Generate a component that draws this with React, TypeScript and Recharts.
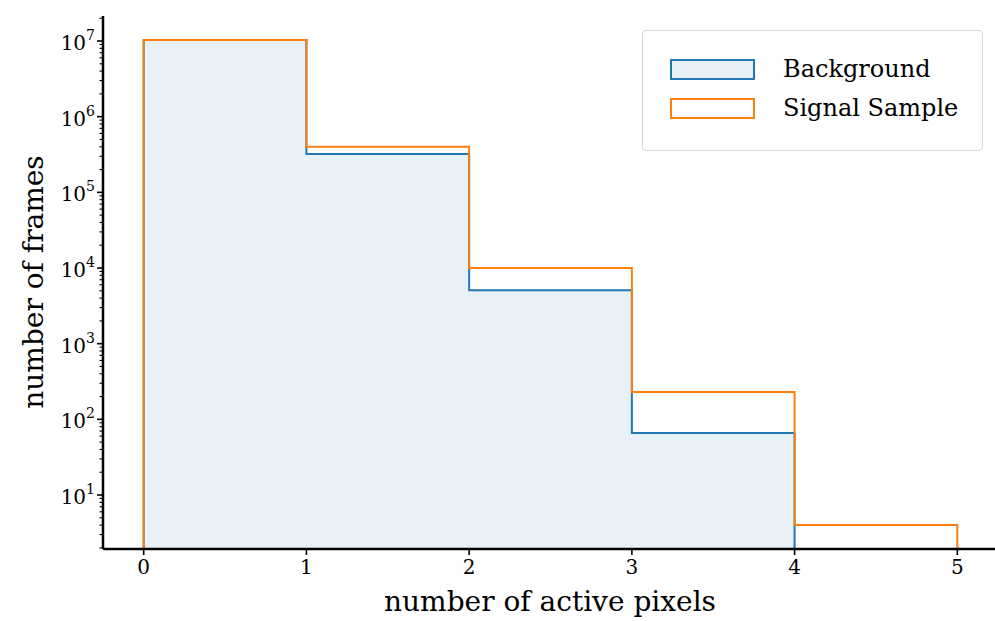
import React from "react";
import { ComposedChart, Area, Line, XAxis, YAxis } from "recharts";

const binEdges = [0, 1, 2, 3, 4, 5];
const backgroundCounts = [1.03e7, 3.2e5, 5.1e3, 66, 0];
const signalCounts = [1.03e7, 4.0e5, 1.0e4, 230, 4];
const xTicks = [0, 1, 2, 3, 4, 5];
const decadeExponents = [1, 2, 3, 4, 5, 6, 7];

const Y_MIN = 1.934;
const Y_MAX = 2.14e7;
const SPINE_X = 103;
const BLUE = "#1f77b4";
const ORANGE = "#ff7f0e";
const FONT = "'DejaVu Serif', serif";

// histogram outline vertices (step) built from bin counts
function stepPoints(counts: number[]) {
  const pts: { x: number; y: number }[] = [{ x: binEdges[0], y: Y_MIN }];
  counts.forEach((c, i) => {
    const v = c > 0 ? c : Y_MIN;
    pts.push({ x: binEdges[i], y: v });
    pts.push({ x: binEdges[i + 1], y: v });
  });
  pts.push({ x: binEdges[binEdges.length - 1], y: Y_MIN });
  return pts;
}

const bgData = stepPoints(backgroundCounts);
const sigData = stepPoints(signalCounts);

const majorTicks = decadeExponents.map((e) => Math.pow(10, e));
const allYTicks: number[] = [];
for (let e = 0; e <= 7; e++) {
  for (let m = 1; m <= 9; m++) {
    const v = m * Math.pow(10, e);
    if (v >= Y_MIN && v <= Y_MAX) allYTicks.push(v);
  }
}

const YTick = (props: any) => {
  const { y, payload } = props;
  const v = payload.value;
  const exp = Math.round(Math.log10(v));
  const isMajor = Math.abs(v - Math.pow(10, exp)) < 1e-6 * v && majorTicks.includes(Math.pow(10, exp));
  return (
    <g>
      <line x1={SPINE_X - (isMajor ? 6 : 3.5)} x2={SPINE_X} y1={y} y2={y} stroke="#000" strokeWidth={isMajor ? 1.6 : 1.1} />
      {isMajor && (
        <text x={SPINE_X - 8} y={y + 9} textAnchor="end" fontFamily={FONT} fontSize={20} fill="#000">
          <tspan>10</tspan>
          <tspan dy={-10} fontSize={14}>{exp}</tspan>
        </text>
      )}
    </g>
  );
};

const XTick = (props: any) => {
  const { x, payload } = props;
  return (
    <g>
      <line x1={x} x2={x} y1={549} y2={555} stroke="#000" strokeWidth={1.6} />
      <text x={x} y={574} textAnchor="middle" fontFamily={FONT} fontSize={20} fill="#000">
        {payload.value}
      </text>
    </g>
  );
};

export default function App() {
  return (
    <div style={{ position: "absolute", left: 0, top: 0, width: 995, height: 621, overflow: "hidden", background: "#fff" }}>
      <ComposedChart width={1000} height={621} margin={{ top: 16, right: 2, bottom: 0, left: 0 }}>
        <XAxis
          type="number"
          dataKey="x"
          domain={[-0.25, 5.25]}
          ticks={xTicks}
          allowDataOverflow
          height={72}
          axisLine={{ stroke: "#000", strokeWidth: 2.5 }}
          tickLine={false}
          tick={<XTick />}
          label={{
            content: () => (
              <text x={550} y={611} textAnchor="middle" fontFamily={FONT} fontSize={28} fill="#000">
                number of active pixels
              </text>
            ),
          }}
        />
        <YAxis
          type="number"
          scale="log"
          domain={[Y_MIN, Y_MAX]}
          ticks={allYTicks}
          allowDataOverflow
          width={SPINE_X}
          axisLine={{ stroke: "#000", strokeWidth: 2.5 }}
          tickLine={false}
          tick={<YTick />}
          interval={0}
          label={{
            content: () => (
              <text x={43} y={282} textAnchor="middle" fontFamily={FONT} fontSize={28} fill="#000" transform="rotate(-90, 43, 282)">
                number of frames
              </text>
            ),
          }}
        />
        <Area
          data={bgData}
          dataKey="y"
          type="linear"
          baseValue={Y_MIN}
          stroke={BLUE}
          strokeWidth={2}
          fill={BLUE}
          fillOpacity={0.1}
          isAnimationActive={false}
        />
        <Line data={sigData} dataKey="y" type="linear" stroke={ORANGE} strokeWidth={2} dot={false} isAnimationActive={false} />
      </ComposedChart>
      <div
        style={{
          position: "absolute",
          left: 642,
          top: 30,
          width: 339,
          height: 119,
          border: "1px solid #d6d6d6",
          borderRadius: 4,
          background: "#fff",
          fontFamily: FONT,
          fontSize: 24,
        }}
      >
        {[
          { name: "Background", stroke: BLUE, fill: "#e8eff6" },
          { name: "Signal Sample", stroke: ORANGE, fill: "#fff" },
        ].map((item, i) => (
          <div key={item.name} style={{ position: "absolute", left: 27, top: 27 + i * 39, display: "flex", alignItems: "center" }}>
            <div style={{ width: 81, height: 17, border: `2px solid ${item.stroke}`, background: item.fill }} />
            <span style={{ marginLeft: 28, lineHeight: "22px" }}>{item.name}</span>
          </div>
        ))}
      </div>
    </div>
  );
}
